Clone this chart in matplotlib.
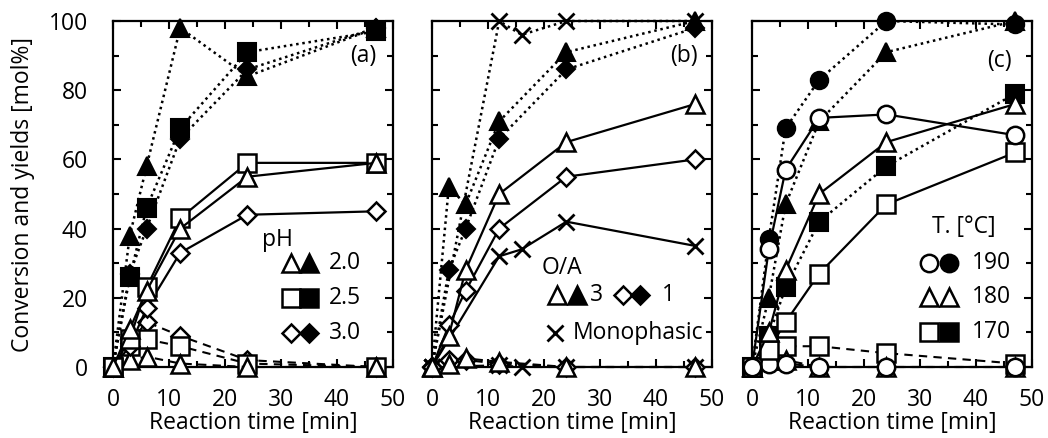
import matplotlib
matplotlib.use("Agg")
import matplotlib.pyplot as plt
from matplotlib.ticker import MultipleLocator

plt.rcParams['font.family'] = ['Open Sans', 'DejaVu Sans']
plt.rcParams['font.size'] = 16.5

# sampling times [min]
t = [0, 3, 6, 12, 24, 47]
t_mono = [0, 12, 16, 24, 47]

# (a) effect of pH: conversion (closed), main yield (open, solid), by-product (open, dashed)
ph20_conv = [0, 38, 58, 98, 84, 98]
ph20_yield = [0, 11, 22, 40, 55, 59]
ph20_by = [0, 2, 3, 1, 0, 0]
ph25_conv = [0, 26, 46, 69, 91, 97]
ph25_yield = [0, 8, 23, 43, 59, 59]
ph25_by = [0, 6, 8, 6, 1, 0]
ph30_conv = [0, 27, 40, 66, 86, 98]
ph30_yield = [0, 6, 17, 33, 44, 45]
ph30_by = [0, 7, 13, 9, 2, 0]

# (b) effect of O/A ratio
oa3_conv = [0, 52, 47, 71, 91, 100]
oa3_yield = [0, 9, 28, 50, 65, 76]
oa3_by = [0, 1, 2.5, 1.5, 0, 0]
oa1_conv = [0, 28, 40, 66, 86, 98]
oa1_yield = [0, 12, 22, 40, 55, 60]
oa1_by = [0, 2, 2, 1, 0, 0]
mono_conv = [0, 100, 96, 100, 100]
mono_yield = [0, 32, 34, 42, 35]
mono_by = [0, 0.5, 0, 0, 0]

# (c) effect of temperature
t190_conv = [0, 37, 69, 83, 100, 99]
t190_yield = [0, 34, 57, 72, 73, 67]
t190_by = [0, 1, 1, 0, 0, 0]
t180_conv = [0, 20, 47, 71, 91, 100]
t180_yield = [0, 10, 28, 50, 65, 76]
t180_by = [0, 2, 2, 0, 0, 0]
t170_conv = [0, 9, 23, 42, 58, 79]
t170_yield = [0, 5, 13, 27, 47, 62]
t170_by = [0, 5, 6, 6, 4, 1]

MS = {'^': 13, 's': 12.5, 'D': 9, 'o': 12.5, 'x': 12}
DOT = (0, (1, 1.5))
DASH = (0, (4, 3))


def draw_series(ax, x, conv, yld, by, marker):
    ms = MS[marker]
    if marker == 'x':
        kw = dict(color='k', marker='x', ms=ms, mew=2, clip_on=False)
        ax.plot(x, conv, ls=DOT, lw=1.8, zorder=3, **kw)
        ax.plot(x, by, ls=DASH, lw=1.5, zorder=3, **kw)
        ax.plot(x, yld, ls='-', lw=1.6, zorder=4, **kw)
        return
    ax.plot(x, conv, ls=DOT, lw=1.8, color='k', marker=marker, ms=ms,
            mfc='k', mec='k', mew=1.5, clip_on=False, zorder=3)
    ax.plot(x, by, ls=DASH, lw=1.5, color='k', marker=marker, ms=ms,
            mfc='white', mec='k', mew=1.8, clip_on=False, zorder=4)
    ax.plot(x, yld, ls='-', lw=1.6, color='k', marker=marker, ms=ms,
            mfc='white', mec='k', mew=1.8, clip_on=False, zorder=5)


def legend_marker(ax, x, y, marker, filled):
    ax.plot([x], [y], transform=ax.transAxes, ls='none', marker=marker,
            ms=MS[marker], mfc='k' if filled else 'white', mec='k',
            mew=2 if marker == 'x' else 1.8, clip_on=False, zorder=6)


def style_axes(ax, show_ylabels):
    ax.set_xlim(0, 50)
    ax.set_ylim(0, 100)
    ax.xaxis.set_major_locator(MultipleLocator(10))
    ax.xaxis.set_minor_locator(MultipleLocator(5))
    ax.yaxis.set_major_locator(MultipleLocator(20))
    ax.yaxis.set_minor_locator(MultipleLocator(10))
    ax.tick_params(which='both', direction='in', top=True, right=True,
                   width=1.5, labelsize=16.5)
    ax.tick_params(which='major', length=6)
    ax.tick_params(which='minor', length=4)
    ax.tick_params(axis='x', pad=15)
    ax.tick_params(axis='y', pad=18)
    if not show_ylabels:
        ax.tick_params(axis='y', labelleft=False)
    for sp in ax.spines.values():
        sp.set_linewidth(1.6)
    ax.set_xlabel("Reaction time [min]", fontsize=16.5, va='center')
    ax.xaxis.set_label_coords(0.5, -0.162)


fig = plt.figure(figsize=(10.48, 4.38), dpi=100)
W = 280 / 1048
B = 1 - 367 / 438
H = 346 / 438
ax_a = fig.add_axes([113 / 1048, B, W, H])
ax_b = fig.add_axes([432 / 1048, B, W, H])
ax_c = fig.add_axes([752 / 1048, B, W, H])

# panel (a)
draw_series(ax_a, t, ph30_conv, ph30_yield, ph30_by, 'D')
draw_series(ax_a, t, ph25_conv, ph25_yield, ph25_by, 's')
draw_series(ax_a, t, ph20_conv, ph20_yield, ph20_by, '^')
style_axes(ax_a, True)
ax_a.set_ylabel("Conversion and yields [mol%]", fontsize=16.5, va='center')
ax_a.yaxis.set_label_coords(-0.323, 0.5)
ax_a.text(0.892, 0.90, "(a)", transform=ax_a.transAxes, ha='center', va='center')
ax_a.text(0.588, 0.367, "pH", transform=ax_a.transAxes, ha='center', va='center')
for yy, mk, lab in [(0.30, '^', "2.0"), (0.20, 's', "2.5"), (0.098, 'D', "3.0")]:
    legend_marker(ax_a, 0.634, yy, mk, False)
    legend_marker(ax_a, 0.699, yy, mk, True)
    ax_a.text(0.771, yy, lab, transform=ax_a.transAxes, ha='left', va='center')

# panel (b)
draw_series(ax_b, t_mono, mono_conv, mono_yield, mono_by, 'x')
draw_series(ax_b, t, oa1_conv, oa1_yield, oa1_by, 'D')
draw_series(ax_b, t, oa3_conv, oa3_yield, oa3_by, '^')
style_axes(ax_b, False)
ax_b.text(0.900, 0.899, "(b)", transform=ax_b.transAxes, ha='center', va='center')
ax_b.text(0.465, 0.286, "O/A", transform=ax_b.transAxes, ha='center', va='center')
legend_marker(ax_b, 0.446, 0.208, '^', False)
legend_marker(ax_b, 0.518, 0.208, '^', True)
ax_b.text(0.589, 0.208, "3", transform=ax_b.transAxes, ha='center', va='center')
legend_marker(ax_b, 0.682, 0.208, 'D', False)
legend_marker(ax_b, 0.743, 0.208, 'D', True)
ax_b.text(0.843, 0.208, "1", transform=ax_b.transAxes, ha='center', va='center')
legend_marker(ax_b, 0.439, 0.098, 'x', False)
ax_b.text(0.504, 0.098, "Monophasic", transform=ax_b.transAxes, ha='left', va='center')

# panel (c)
draw_series(ax_c, t, t170_conv, t170_yield, t170_by, 's')
draw_series(ax_c, t, t180_conv, t180_yield, t180_by, '^')
draw_series(ax_c, t, t190_conv, t190_yield, t190_by, 'o')
style_axes(ax_c, False)
ax_c.text(0.883, 0.884, "(c)", transform=ax_c.transAxes, ha='center', va='center')
ax_c.text(0.758, 0.405, "T. [°C]", transform=ax_c.transAxes, ha='center', va='center')
for yy, mk, lab, second_filled in [(0.30, 'o', "190", True), (0.202, '^', "180", False),
                                   (0.101, 's', "170", True)]:
    legend_marker(ax_c, 0.633, yy, mk, False)
    legend_marker(ax_c, 0.705, yy, mk, second_filled)
    ax_c.text(0.786, yy, lab, transform=ax_c.transAxes, ha='left', va='center')

fig.savefig("out.png", dpi=100)
